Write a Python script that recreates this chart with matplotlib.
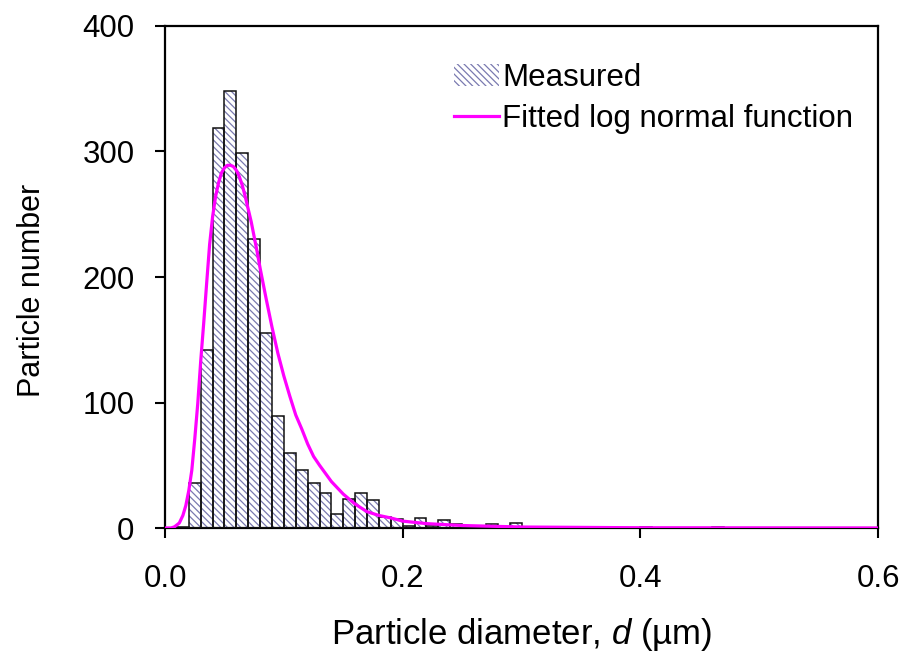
import numpy as np
import matplotlib
matplotlib.use("Agg")
import matplotlib.pyplot as plt
from matplotlib.patches import Patch
from matplotlib.lines import Line2D

plt.rcParams['font.family'] = ['Liberation Sans', 'DejaVu Sans']
plt.rcParams['mathtext.fontset'] = 'custom'
plt.rcParams['mathtext.it'] = 'Liberation Sans:italic'
plt.rcParams['mathtext.rm'] = 'Liberation Sans'
plt.rcParams['hatch.linewidth'] = 0.9

# measured histogram: bin left edges (um) and counts, bin width 0.01 um
bin_left = [0.01, 0.02, 0.03, 0.04, 0.05, 0.06, 0.07, 0.08, 0.09, 0.10,
            0.11, 0.12, 0.13, 0.14, 0.15, 0.16, 0.17, 0.18, 0.19, 0.20,
            0.21, 0.22, 0.23, 0.24, 0.25, 0.26, 0.27, 0.28, 0.29, 0.30,
            0.31, 0.32, 0.34, 0.40, 0.46]
counts = [1, 36, 142, 319, 348, 299, 230, 155, 89, 60,
          46, 36, 28, 11, 23, 28, 22, 9, 7, 2,
          8, 2, 6, 3, 1, 1, 3, 1, 4, 1,
          1, 1, 1, 1, 1]
bin_width = 0.01

# fitted log normal curve
fit_d = [0.0, 0.005, 0.008, 0.012, 0.015, 0.0175, 0.020, 0.0225, 0.025, 0.0275,
         0.030, 0.0325, 0.035, 0.0375, 0.040, 0.0425, 0.045, 0.0475, 0.050, 0.0525,
         0.055, 0.0575, 0.060, 0.0625, 0.065, 0.0675, 0.070, 0.0725, 0.075, 0.0775,
         0.080, 0.085, 0.090, 0.095, 0.100, 0.105, 0.110, 0.115, 0.120, 0.125,
         0.130, 0.140, 0.150, 0.160, 0.170, 0.180, 0.190, 0.200, 0.220, 0.250,
         0.300, 0.400, 0.600]
fit_n = [0, 0, 1, 4, 10, 18, 30, 46, 71, 99,
         133, 163, 195, 226, 248, 264, 275, 283, 287, 289,
         289, 288, 285, 280, 273, 264, 254, 244, 232, 220,
         207, 183, 160, 139, 121, 105, 90, 79, 67, 57,
         50, 37, 27, 19, 13, 10, 8, 5.5, 3.5, 2,
         0.8, 0.2, 0]

fig = plt.figure(figsize=(9.17, 6.63), dpi=100)
ax = fig.add_axes([0.18, 0.2036, 0.7775, 0.7572])

# hatch layer then black outlines
ax.bar(bin_left, counts, width=bin_width, align='edge', color='white',
       edgecolor='#7a7ab0', hatch='\\\\\\\\\\', linewidth=0, zorder=2)
ax.bar(bin_left, counts, width=bin_width, align='edge', fill=False,
       edgecolor='#111111', linewidth=1.1, zorder=3)
ax.plot(fit_d, fit_n, color='#ff00ff', linewidth=2.3, zorder=4)

ax.set_xlim(0, 0.6)
ax.set_ylim(0, 400)
ax.set_xticks([0.0, 0.2, 0.4, 0.6])
ax.set_xticklabels(['0.0', '0.2', '0.4', '0.6'])
ax.set_yticks([0, 100, 200, 300, 400])
ax.tick_params(direction='out', length=7, width=1.5, labelsize=22.5)
ax.tick_params(axis='x', pad=19)
ax.tick_params(axis='y', pad=15)
for s in ax.spines.values():
    s.set_linewidth(1.6)

ax.set_xlabel('Particle diameter, $\\it{d}$ (µm)', fontsize=25, labelpad=16)
ax.set_ylabel('Particle number', fontsize=22)
ax.yaxis.set_label_coords(-0.165, 0.474)

handles = [Patch(facecolor='white', edgecolor='#7a7ab0', hatch='\\\\\\\\\\', linewidth=0),
           Line2D([], [], color='#ff00ff', linewidth=2.3)]
leg = ax.legend(handles, ['Measured', 'Fitted log normal function'],
                loc='upper left', bbox_to_anchor=(0.405, 0.926), frameon=False,
                fontsize=22.5, handlelength=1.45, handletextpad=0.1,
                labelspacing=0.36, borderaxespad=0, borderpad=0)

fig.savefig('out.png', dpi=100)
